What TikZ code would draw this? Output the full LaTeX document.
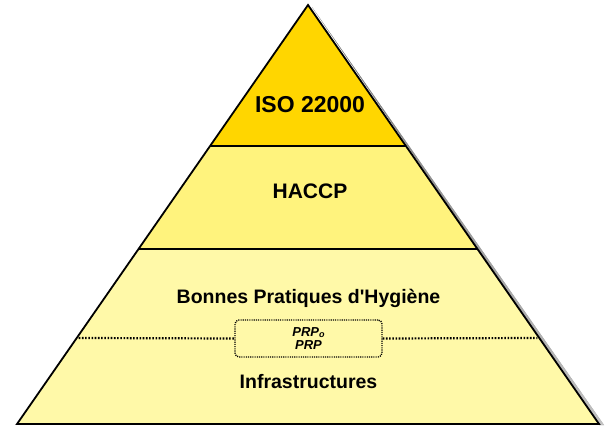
\documentclass[tikz,border=0pt]{standalone}
\usepackage{fontspec}
\setmainfont{Liberation Sans}
\usetikzlibrary{calc}
\definecolor{topY}{RGB}{255,214,0}
\definecolor{midY}{RGB}{255,243,125}
\definecolor{lowY}{RGB}{255,249,168}
\definecolor{shade}{RGB}{185,185,195}
\tikzset{
  layertext/.style={font=\bfseries, inner sep=0pt, anchor=base},
  edge/.style={line width=1.8pt, line join=miter},
  sep/.style={line width=1.6pt},
  dotline/.style={line width=2.2pt, dash pattern=on 1.6pt off 1.6pt},
  prpbox/.style={draw, line width=1.4pt, dash pattern=on 1.1pt off 1.1pt, rounded corners=4pt,
    minimum width=147pt, minimum height=37pt, inner sep=0pt, align=center,
    font=\fontsize{13}{14}\selectfont\bfseries\itshape}
}
\begin{document}
\begin{tikzpicture}[x=1pt,y=-1pt]
\useasboundingbox (0,0) rectangle (610,426);
\coordinate (A) at (308,5);
\coordinate (BL) at (17,424);
\coordinate (BR) at (599,424);
\coordinate (L1) at ($(A)!0.3365!(BL)$);
\coordinate (R1) at ($(A)!0.3365!(BR)$);
\coordinate (L2) at ($(A)!0.5823!(BL)$);
\coordinate (R2) at ($(A)!0.5823!(BR)$);
\coordinate (L3) at ($(A)!0.7947!(BL)$);
\coordinate (R3) at ($(A)!0.7947!(BR)$);
% shadow
\fill[shade, opacity=0.6] ($(A)+(4,2)$) -- ($(BR)+(5,1)$) -- ($(BR)+(0,1)$) -- cycle;
% layers
\fill[topY] (A) -- (R1) -- (L1) -- cycle;
\fill[midY] (L1) -- (R1) -- (R2) -- (L2) -- cycle;
\fill[lowY] (L2) -- (R2) -- (BR) -- (BL) -- cycle;
\draw[sep] (L1) -- (R1);
\draw[sep] (L2) -- (R2);
\draw[edge] (A) -- (BR) -- (BL) -- cycle;
% texts
\node[layertext, font=\fontsize{23}{26}\selectfont\bfseries] (iso) at (310,112) {ISO 22000};
\node[layertext, font=\fontsize{21}{24}\selectfont\bfseries] (haccp) at (310,198) {HACCP};
\node[layertext, font=\fontsize{19.5}{22}\selectfont\bfseries] (bph) at (308.5,303) {Bonnes Pratiques d\textquotesingle Hygiène};
\node[layertext, font=\fontsize{19.5}{22}\selectfont\bfseries] (infra) at (308.5,388) {Infrastructures};
\node[prpbox] (prp) at (308.5,338.5) {PRP\raisebox{-0.5pt}{\fontsize{9}{10}\selectfont o}\\[-1.5pt]PRP};
\coordinate (dl) at ($(L3)+(2,0)$);
\coordinate (dr) at ($(R3)+(-2,0)$);
\draw[dotline] (dl) -- (prp.west);
\draw[dotline] (prp.east) -- (dr);
\end{tikzpicture}
\end{document}
